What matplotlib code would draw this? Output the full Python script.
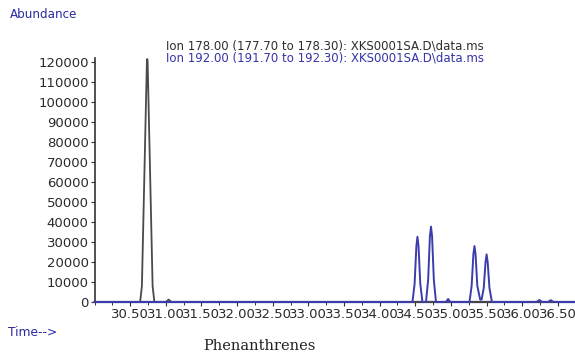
import matplotlib
matplotlib.use("Agg")
import matplotlib.pyplot as plt
from matplotlib.ticker import MultipleLocator, FixedLocator

# Ion 178 trace (retention time in min, abundance)
ion178_time = [30.00, 30.64, 30.665, 30.735, 30.74, 30.745, 30.815, 30.84, 31.00, 31.04, 31.08, 36.74]
ion178_abund = [0, 0, 8000, 120500, 121500, 120500, 8000, 0, 0, 1200, 0, 0]

# Ion 192 trace
ion192_time = [30.00,
               34.46, 34.49, 34.515, 34.53, 34.545, 34.57, 34.60,
               34.65, 34.68, 34.705, 34.72, 34.735, 34.76, 34.79,
               34.93, 34.96, 34.99,
               35.26, 35.29, 35.315, 35.33, 35.345, 35.37, 35.41,
               35.43, 35.46, 35.485, 35.50, 35.515, 35.54, 35.575,
               36.20, 36.24, 36.28, 36.36, 36.40, 36.44, 36.74]
ion192_abund = [0,
                0, 9000, 28000, 32600, 28000, 9000, 0,
                0, 11000, 33000, 37700, 33000, 11000, 0,
                0, 1500, 0,
                0, 8000, 24000, 28000, 24000, 8000, 1200,
                1200, 7000, 20000, 23800, 20000, 7000, 0,
                0, 1000, 0, 0, 900, 0, 0]

yticks = [0, 10000, 20000, 30000, 40000, 50000, 60000, 70000, 80000, 90000,
          100000, 110000, 120000]
xticks = [30.50, 31.00, 31.50, 32.00, 32.50, 33.00, 33.50, 34.00, 34.50,
          35.00, 35.50, 36.00, 36.50]

legend_lines = ["Ion 178.00 (177.70 to 178.30): XKS0001SA.D\\data.ms",
                "Ion 192.00 (191.70 to 192.30): XKS0001SA.D\\data.ms"]

W, H = 575, 358
fig = plt.figure(figsize=(W / 100, H / 100), dpi=100)
fig.patch.set_facecolor("white")

left, right, bottom, top = 94.5, 575, 302, 58
ax = fig.add_axes([left / W, 1 - bottom / H, (right - left) / W, (bottom - top) / H])
ax.set_xlim(30.0, 36.74)
ax.set_ylim(0, 122000)

ax.plot(ion178_time, ion178_abund, color="#4a4a4a", lw=1.3, clip_on=False, zorder=3)
ax.plot(ion192_time, ion192_abund, color="#3c3cac", lw=1.4, clip_on=False, zorder=4)

for s in ["top", "right"]:
    ax.spines[s].set_visible(False)
ax.spines["left"].set_color("#333333")
ax.spines["left"].set_linewidth(1.2)
ax.spines["bottom"].set_color("#1c1c78")
ax.spines["bottom"].set_linewidth(1.6)

ax.yaxis.set_major_locator(FixedLocator(yticks))
ax.set_yticklabels([str(v) for v in yticks])
ax.xaxis.set_major_locator(FixedLocator(xticks))
ax.set_xticklabels([f"{v:.2f}" for v in xticks])
ax.xaxis.set_minor_locator(MultipleLocator(0.25))

ax.tick_params(axis="both", which="major", direction="out", length=3, width=0.8,
               colors="#333333", labelsize=9.5, labelcolor="#2a2a2a", pad=1.2)
ax.tick_params(axis="x", which="minor", direction="out", length=2, width=0.7, colors="#333333")
for lab in ax.get_xticklabels() + ax.get_yticklabels():
    lab.set_family("DejaVu Sans")

fig.text(166 / W, 1 - 46 / H, legend_lines[0], color="#2e2e2e", fontsize=8.5,
         family="DejaVu Sans", va="center", ha="left")
fig.text(166 / W, 1 - 58 / H, legend_lines[1], color="#3535a8", fontsize=8.5,
         family="DejaVu Sans", va="center", ha="left")

fig.text(10 / W, 1 - 15 / H, "Abundance", color="#2a2aa0", fontsize=8.6,
         family="DejaVu Sans", va="center", ha="left")
fig.text(8 / W, 1 - 333 / H, "Time-->", color="#2a2aa0", fontsize=8.8,
         family="DejaVu Sans", va="center", ha="left")
fig.text(259 / W, 1 - 346 / H, "Phenanthrenes", color="#222222", fontsize=10.5,
         family="DejaVu Serif", va="center", ha="center")

fig.savefig("out.png", dpi=100, facecolor="white")
